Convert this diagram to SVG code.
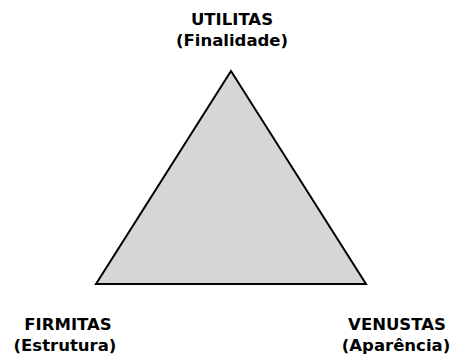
<svg xmlns="http://www.w3.org/2000/svg" width="455" height="360" viewBox="0 0 455 360">
<style>
.lbl{font-family:"DejaVu Sans","Liberation Sans",sans-serif;font-weight:bold;font-size:16.5px;fill:#000;text-anchor:middle}
.tri{fill:#d6d6d6;stroke:#000;stroke-width:2;stroke-linejoin:miter}
</style>
<rect width="455" height="360" fill="#fff"/>
<g id="triangle">
<polygon class="tri" points="231,71 96,284 366,284"/>
</g>
<g id="utilitas">
<text class="lbl" x="232" y="25">UTILITAS</text>
<text class="lbl" x="232" y="46">(Finalidade)</text>
</g>
<g id="firmitas">
<text class="lbl" x="68" y="330">FIRMITAS</text>
<text class="lbl" x="65" y="351">(Estrutura)</text>
</g>
<g id="venustas">
<text class="lbl" x="397" y="330">VENUSTAS</text>
<text class="lbl" x="396" y="351">(Aparência)</text>
</g>
</svg>
